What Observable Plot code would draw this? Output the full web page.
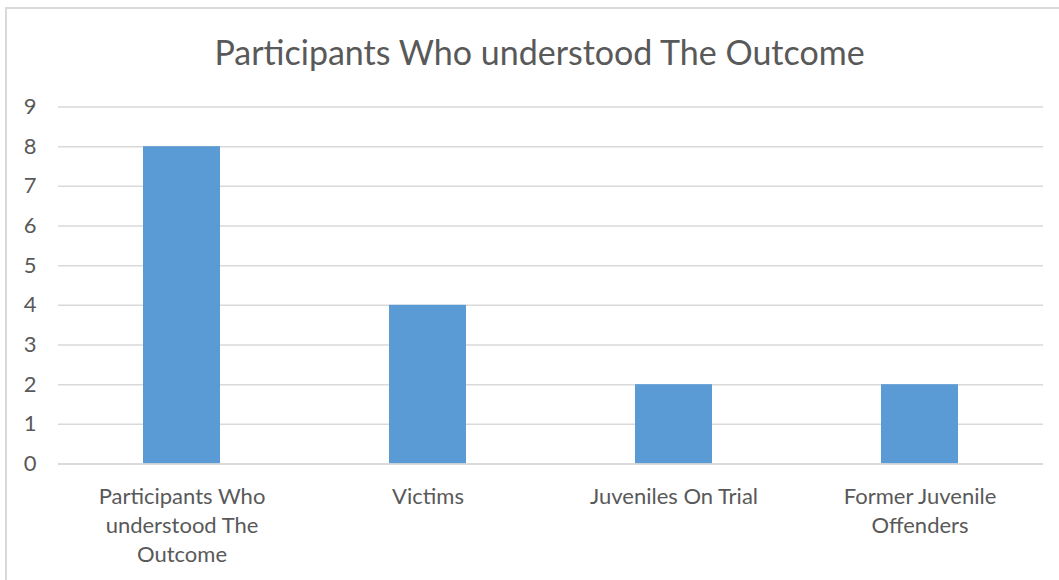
<!DOCTYPE html>
<html>
<head>
<meta charset="utf-8">
<script src="https://cdn.jsdelivr.net/npm/d3@7"></script>
<script src="https://cdn.jsdelivr.net/npm/@observablehq/plot@0.6"></script>
<style>
  html, body { margin: 0; padding: 0; background: #fff; }
  #wrap { position: relative; width: 1059px; height: 580px; overflow: hidden; background: #fff; font-family: Lato, "Open Sans", sans-serif; }
  #frame { position: absolute; left: 5px; top: 7px; width: 1100px; height: 700px; border: 2px solid #d9d9d9; box-sizing: border-box; }
  #title { position: absolute; left: 0; top: 27px; width: 1079px; text-align: center; font-size: 34px; color: #595959; line-height: 50px; }
  #chart { position: absolute; left: 0; top: 80px; }
</style>
</head>
<body>
<div id="wrap">
  <div id="frame"></div>
  <div id="title">Participants Who understood The Outcome</div>
  <div id="chart"></div>
</div>
<script>
const categories = ["Participants Who understood The Outcome", "Victims", "Juveniles On Trial", "Former Juvenile Offenders"];
const values = [8, 4, 2, 2];
const tickLabels = ["Participants Who\nunderstood The\nOutcome", "Victims", "Juveniles On Trial", "Former Juvenile\nOffenders"];
const yTicks = [0, 1, 2, 3, 4, 5, 6, 7, 8, 9];

const data = categories.map((c, i) => ({category: c, value: values[i]}));
const labelOf = new Map(categories.map((c, i) => [c, tickLabels[i]]));

const plot = Plot.plot({
  width: 1059,
  height: 500,
  marginTop: 26.5,
  marginBottom: 116.5,
  marginLeft: 58,
  marginRight: 16,
  style: { fontFamily: "Lato, 'Open Sans', sans-serif", color: "#595959", background: "transparent" },
  x: { domain: categories, paddingInner: 0.688, paddingOuter: 0.344 },
  y: { domain: [0, 9] },
  marks: [
    Plot.gridY(yTicks, { stroke: "#d9d9d9", strokeOpacity: 1, strokeWidth: 1.5 }),
    Plot.barY(data, { x: "category", y: "value", fill: "#5B9BD5" }),
    Plot.ruleY([0], { stroke: "#d9d9d9", strokeWidth: 1.5 }),
    Plot.axisY(yTicks, { tickSize: 0, tickPadding: 22, fontSize: 22, fill: "#595959", label: null }),
    Plot.axisX({ tickSize: 0, tickPadding: 19, fontSize: 22, fill: "#595959", lineHeight: 1.33, label: null, tickFormat: d => labelOf.get(d) })
  ]
});
document.getElementById("chart").appendChild(plot);
</script>
</body>
</html>
